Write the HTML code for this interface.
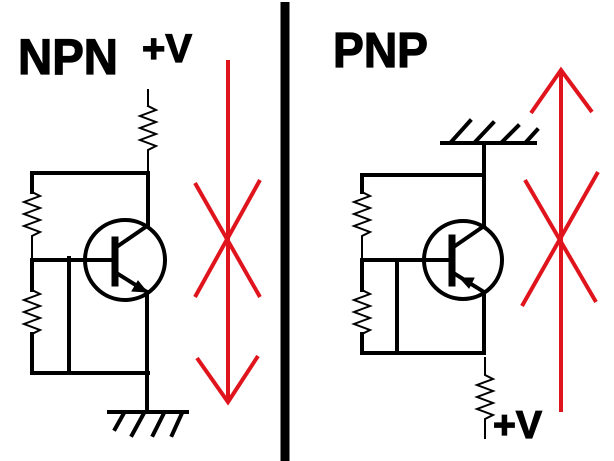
<!DOCTYPE html>
<html><head><style>html,body{margin:0;padding:0;background:#fff}svg{display:block}</style></head><body>
<svg width="614" height="461" viewBox="0 0 614 461" xmlns="http://www.w3.org/2000/svg" font-family="Liberation Sans, sans-serif" font-weight="bold">
<rect width="614" height="461" fill="#fff"/>
<g stroke="#000" stroke-width="1.2">
<text x="18" y="74" font-size="50" textLength="100" lengthAdjust="spacingAndGlyphs">NPN</text>
<text x="142" y="62" font-size="40" textLength="50" lengthAdjust="spacingAndGlyphs">+V</text>
<text x="333" y="67" font-size="49" textLength="95" lengthAdjust="spacingAndGlyphs">PNP</text>
<text x="493" y="438" font-size="39" textLength="49" lengthAdjust="spacingAndGlyphs">+V</text>
</g>
<line x1="285" y1="2" x2="285" y2="461" stroke="#000" stroke-width="9"/>
<g fill="none" stroke="#000" stroke-width="4" stroke-linecap="square">
<line x1="148" y1="90" x2="148" y2="106" stroke-width="2"/>
<polyline points="148,106 156,110 140,116 156,122 140,128 156,134 140,140 156,146 148,150 148,173" stroke-width="2"/>
<polyline points="32,173 148,173 148,226"/>
<circle cx="125" cy="260" r="40"/>
<line x1="115" y1="240" x2="115" y2="283" stroke-width="7"/>
<line x1="33" y1="260" x2="112" y2="260"/>
<line x1="118" y1="246" x2="147" y2="226"/>
<line x1="118" y1="274" x2="147" y2="292"/>
<polygon points="147,292 132,291 138,281" fill="#000" stroke-width="1"/>
<line x1="147" y1="292" x2="147" y2="410"/>
<line x1="32" y1="173" x2="32" y2="192"/>
<polyline points="32,192 40,196 24,202 40,208 24,214 40,220 24,226 40,232 32,236 32,260" stroke-width="2"/>
<line x1="32" y1="260" x2="32" y2="290"/>
<polyline points="32,290 40,294 24,300 40,306 24,312 40,318 24,324 40,330 32,334" stroke-width="2"/>
<polyline points="32,334 32,373 148,373"/>
<line x1="69" y1="258" x2="69" y2="373"/>
<line x1="109" y1="412" x2="187" y2="412"/>
<line x1="124" y1="413" x2="115" y2="429"/>
<line x1="144" y1="413" x2="132" y2="435"/>
<line x1="164" y1="413" x2="153" y2="435"/>
<line x1="182" y1="413" x2="172" y2="435"/>
<line x1="442" y1="143" x2="535" y2="143"/>
<line x1="452" y1="141" x2="470" y2="121"/>
<line x1="476" y1="141" x2="493" y2="123"/>
<line x1="503" y1="141" x2="518" y2="126"/>
<line x1="527" y1="141" x2="537" y2="130"/>
<polyline points="484,143 484,226"/>
<line x1="362" y1="175" x2="484" y2="175"/>
<circle cx="463" cy="260" r="39"/>
<line x1="452" y1="238" x2="452" y2="283" stroke-width="7"/>
<line x1="362" y1="260" x2="450" y2="260"/>
<line x1="455" y1="246" x2="484" y2="226"/>
<line x1="455" y1="274" x2="484" y2="292"/>
<polygon points="460,278 474,278 469,288" fill="#000" stroke-width="1"/>
<polyline points="484,292 484,353 362,353"/>
<line x1="397" y1="260" x2="397" y2="353"/>
<line x1="362" y1="175" x2="362" y2="192"/>
<polyline points="362,192 370,196 354,202 370,208 354,214 370,220 354,226 370,232 362,236 362,260" stroke-width="2"/>
<line x1="362" y1="260" x2="362" y2="290"/>
<polyline points="362,290 370,294 354,300 370,306 354,312 370,318 354,324 370,330 362,334" stroke-width="2"/>
<line x1="362" y1="334" x2="362" y2="353"/>
<polyline points="485,358 485,375 493,379 477,385 493,391 477,397 493,403 477,409 493,415 485,419 485,438" stroke-width="2"/>
</g>
<g stroke="#e0141c" stroke-width="4" fill="none">
<line x1="228" y1="60" x2="228" y2="401"/>
<polyline points="197,358 228,402 258,356"/>
<line x1="195" y1="183" x2="260" y2="297"/>
<line x1="260" y1="180" x2="195" y2="297"/>
<line x1="561" y1="70" x2="561" y2="412"/>
<polyline points="531,113 561,70 592,112"/>
<line x1="525" y1="180" x2="596" y2="302"/>
<line x1="598" y1="172" x2="522" y2="306"/>
</g>
</svg>
</body></html>
